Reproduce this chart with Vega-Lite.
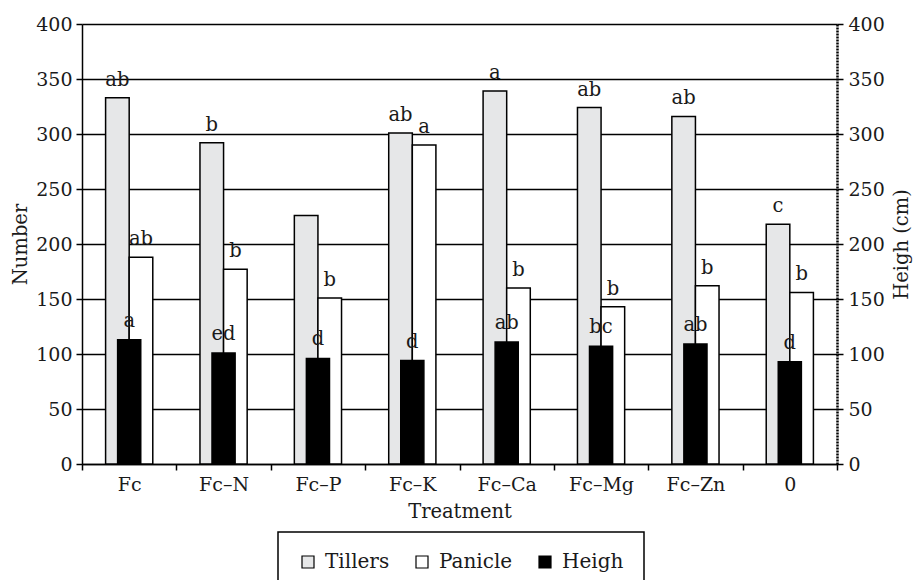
{
  "$schema": "https://vega.github.io/schema/vega-lite/v6.json",
  "width": 755,
  "height": 440,
  "autosize": {"type": "none"},
  "padding": {"left": 82, "top": 24, "right": 78, "bottom": 116},
  "background": "white",
  "config": {
    "font": "DejaVu Serif",
    "view": {"stroke": null},
    "axis": {
      "labelFont": "DejaVu Serif",
      "titleFont": "DejaVu Serif",
      "labelFontSize": 19,
      "titleFontSize": 19.5,
      "titleFontWeight": "normal",
      "labelColor": "#1a1a1a",
      "titleColor": "#1a1a1a",
      "domainColor": "#000000",
      "domainWidth": 1.5,
      "tickColor": "#000000",
      "tickWidth": 1.5,
      "tickSize": 6
    },
    "legend": {
      "labelFont": "DejaVu Serif",
      "labelFontSize": 20,
      "labelColor": "#1a1a1a",
      "strokeColor": "#000000",
      "strokeWidth": 1.5
    }
  },
  "datasets": {
    "rows": [
      {"treatment": "Fc", "series": "Tillers", "value": 333, "letter": "ab"},
      {"treatment": "Fc–N", "series": "Tillers", "value": 292, "letter": "b"},
      {"treatment": "Fc–P", "series": "Tillers", "value": 226, "letter": ""},
      {"treatment": "Fc–K", "series": "Tillers", "value": 301, "letter": "ab"},
      {"treatment": "Fc–Ca", "series": "Tillers", "value": 339, "letter": "a"},
      {"treatment": "Fc–Mg", "series": "Tillers", "value": 324, "letter": "ab"},
      {"treatment": "Fc–Zn", "series": "Tillers", "value": 316, "letter": "ab"},
      {"treatment": "0", "series": "Tillers", "value": 218, "letter": "c"},
      {"treatment": "Fc", "series": "Panicle", "value": 188, "letter": "ab"},
      {"treatment": "Fc–N", "series": "Panicle", "value": 177, "letter": "b"},
      {"treatment": "Fc–P", "series": "Panicle", "value": 151, "letter": "b"},
      {"treatment": "Fc–K", "series": "Panicle", "value": 290, "letter": "a"},
      {"treatment": "Fc–Ca", "series": "Panicle", "value": 160, "letter": "b"},
      {"treatment": "Fc–Mg", "series": "Panicle", "value": 143, "letter": "b"},
      {"treatment": "Fc–Zn", "series": "Panicle", "value": 162, "letter": "b"},
      {"treatment": "0", "series": "Panicle", "value": 156, "letter": "b"},
      {"treatment": "Fc", "series": "Heigh", "value": 113, "letter": "a"},
      {"treatment": "Fc–N", "series": "Heigh", "value": 101, "letter": "ed"},
      {"treatment": "Fc–P", "series": "Heigh", "value": 96, "letter": "d"},
      {"treatment": "Fc–K", "series": "Heigh", "value": 94, "letter": "d"},
      {"treatment": "Fc–Ca", "series": "Heigh", "value": 111, "letter": "ab"},
      {"treatment": "Fc–Mg", "series": "Heigh", "value": 107, "letter": "bc"},
      {"treatment": "Fc–Zn", "series": "Heigh", "value": 109, "letter": "ab"},
      {"treatment": "0", "series": "Heigh", "value": 93, "letter": "d"}
    ]
  },
  "data": {"name": "rows"},
  "resolve": {"scale": {"y": "independent"}},
  "layer": [
    {
      "transform": [{"filter": "datum.series !== 'Heigh'"}],
      "encoding": {
        "x": {
          "field": "treatment",
          "type": "nominal",
          "sort": ["Fc", "Fc–N", "Fc–P", "Fc–K", "Fc–Ca", "Fc–Mg", "Fc–Zn", "0"],
          "scale": {"paddingInner": 0, "paddingOuter": 0},
          "axis": {
            "title": "Treatment",
            "labelAngle": 0,
            "tickBand": "extent",
            "labelPadding": 5,
            "titlePadding": 8,
            "grid": false
          }
        },
        "xOffset": {
          "field": "series",
          "type": "nominal",
          "sort": ["Tillers", "Panicle"],
          "scale": {"paddingInner": 0, "paddingOuter": 1.04}
        },
        "y": {
          "field": "value",
          "type": "quantitative",
          "scale": {"domain": [0, 400], "nice": false},
          "axis": {
            "orient": "left",
            "title": "Number",
            "values": [0, 50, 100, 150, 200, 250, 300, 350, 400],
            "grid": true,
            "gridColor": "#000000",
            "gridWidth": 1.5,
            "gridOpacity": 1,
            "labelPadding": 4,
            "titlePadding": 5
          }
        }
      },
      "layer": [
        {
          "mark": {"type": "bar", "stroke": "#000000", "strokeWidth": 1.5, "opacity": 1},
          "encoding": {
            "color": {
              "field": "series",
              "type": "nominal",
              "scale": {"domain": ["Tillers", "Panicle", "Heigh"], "range": ["#e6e7e8", "#ffffff", "#000000"]},
              "legend": {
                "title": null,
                "orient": "none",
                "legendX": 196,
                "legendY": 508,
                "direction": "horizontal",
                "symbolType": "square",
                "symbolSize": 144,
                "symbolStrokeColor": "#000000",
                "symbolStrokeWidth": 1.2,
                "symbolOpacity": 1,
                "labelOffset": 7,
                "columnPadding": 22,
                "strokeColor": "#000000",
                "padding": 20,
                "fillColor": "#ffffff"
              }
            }
          }
        },
        {
          "mark": {"type": "text", "baseline": "alphabetic", "dy": -12, "fontSize": 19.5, "font": "DejaVu Serif", "color": "#1a1a1a"},
          "encoding": {"text": {"field": "letter"}}
        }
      ]
    },
    {
      "transform": [{"filter": "datum.series === 'Heigh'"}],
      "encoding": {
        "x": {
          "field": "treatment",
          "type": "nominal",
          "sort": ["Fc", "Fc–N", "Fc–P", "Fc–K", "Fc–Ca", "Fc–Mg", "Fc–Zn", "0"]
        },
        "y": {
          "field": "value",
          "type": "quantitative",
          "scale": {"domain": [0, 400], "nice": false},
          "axis": {
            "orient": "right",
            "title": "Heigh (cm)",
            "titleAngle": 270,
            "titleBaseline": "top",
            "values": [0, 50, 100, 150, 200, 250, 300, 350, 400],
            "grid": false,
            "domainDash": [2, 1],
            "domainWidth": 2.5,
            "labelPadding": 5,
            "titlePadding": 8
          }
        }
      },
      "layer": [
        {
          "mark": {"type": "bar", "width": {"band": 0.245}, "stroke": "#000000", "strokeWidth": 1.5, "opacity": 1},
          "encoding": {
            "color": {
              "field": "series",
              "type": "nominal",
              "scale": {"domain": ["Tillers", "Panicle", "Heigh"], "range": ["#e6e7e8", "#ffffff", "#000000"]}
            }
          }
        },
        {
          "mark": {"type": "text", "baseline": "alphabetic", "dy": -13, "fontSize": 19.5, "font": "DejaVu Serif", "color": "#1a1a1a"},
          "encoding": {"text": {"field": "letter"}}
        }
      ]
    }
  ]
}
